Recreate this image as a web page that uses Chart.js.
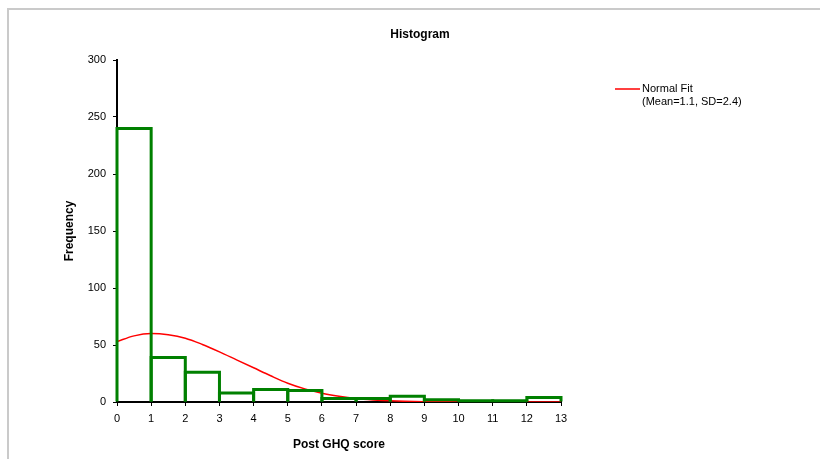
<!DOCTYPE html>
<html>
<head>
<meta charset="utf-8">
<script src="https://cdn.jsdelivr.net/npm/chart.js@4.4.1/dist/chart.umd.min.js"></script>
<style>
  html, body { margin: 0; padding: 0; background: #fff; }
  #wrap { position: relative; width: 820px; height: 459px; overflow: hidden; }
  #frame { position: absolute; left: 7px; top: 8px; width: 900px; height: 500px;
           border-top: 2px solid #cacaca; border-left: 2px solid #cacaca; }
  #chart { position: absolute; left: 0; top: 0; }
</style>
</head>
<body>
<div id="wrap">
  <div id="frame"></div>
  <canvas id="chart" width="820" height="459"></canvas>
</div>
<script>
// Datos del histograma (centros de clase y frecuencias)
const binCenters = [0.5, 1.5, 2.5, 3.5, 4.5, 5.5, 6.5, 7.5, 8.5, 9.5, 10.5, 11.5, 12.5];
const frequencies = [240, 39, 26, 8, 11, 10, 3, 3, 5, 2, 1, 1, 4];

// Curva de ajuste normal
const fitX = [0, 0.5, 1, 1.5, 2, 2.5, 3, 3.5, 4, 4.5, 5, 5.5, 6, 6.5, 7, 7.5, 8, 9, 10, 11, 12, 13];
const fitY = [53, 58, 60, 59, 56, 50.5, 44, 37, 30, 23, 16.5, 11.5, 7.7, 5, 3, 1.8, 1, 0.3, 0.1, 0, 0, 0];

const xTicks = [0, 1, 2, 3, 4, 5, 6, 7, 8, 9, 10, 11, 12, 13];
const yTicks = [0, 50, 100, 150, 200, 250, 300];

const chartTitle = 'Histogram';
const xTitle = 'Post GHQ score';
const yTitle = 'Frequency';
const legendLines = ['Normal Fit', '(Mean=1.1, SD=2.4)'];

Chart.defaults.font.family = "'Liberation Sans', Arial, sans-serif";
Chart.defaults.font.size = 11;
Chart.defaults.color = '#000';

// Contorno de las barras (centrado en los bordes, como en el original)
const outlinePlugin = {
    id: 'outlinePlugin',
    afterDatasetsDraw(chart) {
        const meta = chart.getDatasetMeta(0);
        const ctx = chart.ctx;
        ctx.save();
        ctx.strokeStyle = '#008000';
        ctx.lineWidth = 3;
        ctx.lineJoin = 'miter';
        meta.data.forEach(bar => {
            const p = bar.getProps(['x', 'y', 'base', 'width'], true);
            const l = p.x - p.width / 2;
            const r = p.x + p.width / 2;
            ctx.beginPath();
            ctx.moveTo(l, p.base);
            ctx.lineTo(l, p.y);
            ctx.lineTo(r, p.y);
            ctx.lineTo(r, p.base);
            ctx.stroke();
        });
        ctx.restore();
    }
};

// Títulos y leyenda dibujados a mano
const labelsPlugin = {
    id: 'labelsPlugin',
    afterDraw(chart) {
        const ctx = chart.ctx;
        const area = chart.chartArea;
        ctx.save();
        ctx.fillStyle = '#000';
        ctx.font = "bold 12px 'Liberation Sans', Arial, sans-serif";
        ctx.textAlign = 'center';
        ctx.textBaseline = 'middle';
        ctx.fillText(chartTitle, 420, 35);
        ctx.fillText(xTitle, (area.left + area.right) / 2, 445);
        ctx.translate(70, (area.top + area.bottom) / 2);
        ctx.rotate(-Math.PI / 2);
        ctx.fillText(yTitle, 0, 0);
        ctx.restore();

        ctx.save();
        ctx.strokeStyle = '#ff0000';
        ctx.lineWidth = 1.5;
        ctx.beginPath();
        ctx.moveTo(615, 89);
        ctx.lineTo(640, 89);
        ctx.stroke();
        ctx.fillStyle = '#000';
        ctx.font = "11px 'Liberation Sans', Arial, sans-serif";
        ctx.textAlign = 'left';
        ctx.textBaseline = 'middle';
        legendLines.forEach((t, i) => ctx.fillText(t, 642, 89 + i * 13));
        ctx.restore();
    }
};

const ctx = document.getElementById('chart').getContext('2d');
new Chart(ctx, {
    type: 'bar',
    data: {
        datasets: [
            {
                type: 'bar',
                label: 'Frequency',
                data: binCenters.map((x, i) => ({ x: x, y: frequencies[i] })),
                backgroundColor: 'rgba(0,0,0,0)',
                borderWidth: 0,
                categoryPercentage: 1,
                barPercentage: 1,
                inflateAmount: 0,
                order: 1
            },
            {
                type: 'line',
                label: 'Normal Fit',
                data: fitX.map((x, i) => ({ x: x, y: fitY[i] })),
                borderColor: '#ff0000',
                borderWidth: 1.5,
                pointRadius: 0,
                cubicInterpolationMode: 'monotone',
                fill: false,
                order: 2
            }
        ]
    },
    options: {
        responsive: false,
        animation: false,
        layout: { padding: { top: 60, right: 259, left: 0, bottom: 0 } },
        plugins: {
            legend: { display: false },
            title: { display: false },
            tooltip: { enabled: false }
        },
        scales: {
            x: {
                type: 'linear',
                min: 0,
                max: 13,
                offset: false,
                afterFit: s => { s.height = 57; },
                afterBuildTicks: s => { s.ticks = xTicks.map(v => ({ value: v })); },
                ticks: { padding: 6, color: '#000', font: { size: 11 } },
                grid: { offset: false, drawOnChartArea: false, tickLength: 4, color: '#000', tickWidth: 1 },
                border: { color: '#000', width: 2 }
            },
            y: {
                min: 0,
                max: 300,
                afterFit: s => { s.width = 117; },
                afterBuildTicks: s => { s.ticks = yTicks.map(v => ({ value: v })); },
                ticks: { padding: 7, color: '#000', font: { size: 11 } },
                grid: { drawOnChartArea: false, tickLength: 4, color: '#000', tickWidth: 1 },
                border: { color: '#000', width: 2 }
            }
        }
    },
    plugins: [outlinePlugin, labelsPlugin]
});
</script>
</body>
</html>
